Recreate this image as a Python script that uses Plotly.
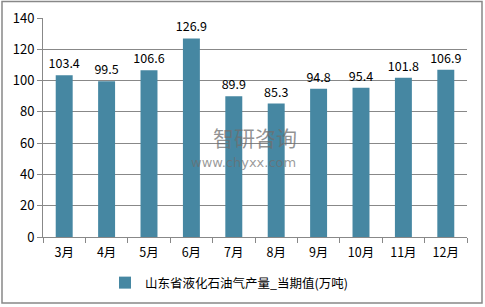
import plotly.graph_objects as go

months = ["3月", "4月", "5月", "6月", "7月", "8月", "9月", "10月", "11月", "12月"]
values = [103.4, 99.5, 106.6, 126.9, 89.9, 85.3, 94.8, 95.4, 101.8, 106.9]
series_name = "山东省液化石油气产量_当期值(万吨)"
y_ticks = [0, 20, 40, 60, 80, 100, 120, 140]

W, H = 485, 307
ml, mr, mt, mb = 43, 18, 18, 70

pw = W - ml - mr
ph = H - mt - mb
def px(x): return (x - ml) / pw
def py(y): return (H - mb - y) / ph

fig = go.Figure()
fig.add_trace(go.Bar(
    x=months, y=values, name=series_name,
    marker=dict(color="#4687a2", line=dict(width=0)),
    text=[f"{v:.1f}" for v in values], textposition="outside",
    constraintext="none",
    textfont=dict(family="Noto Sans CJK SC", size=12.5, color="#000000"),
    cliponaxis=False,
))

font = "Noto Sans CJK SC"
fig.update_layout(
    width=W, height=H,
    margin=dict(l=ml, r=mr, t=mt, b=mb, autoexpand=False),
    paper_bgcolor="white", plot_bgcolor="white",
    bargap=0.6,
    showlegend=True,
    legend=dict(orientation="h", x=px(105), xanchor="left", y=py(268), yanchor="top",
                font=dict(family=font, size=12.5, color="#000"),
                bgcolor="rgba(0,0,0,0)"),
    font=dict(family=font, size=12, color="#000"),
    xaxis=dict(showline=True, linecolor="#888", linewidth=1, automargin=False,
               ticks="outside", ticklen=5, tickcolor="#888", tickson="boundaries",
               ticklabelstandoff=4,
               tickfont=dict(family=font, size=12.5), showgrid=False),
    yaxis=dict(range=[0, 140], tickvals=y_ticks, showline=True, linecolor="#888",
               linewidth=1, ticks="outside", ticklen=5, tickcolor="#888", automargin=False,
               showgrid=True, gridcolor="#888", gridwidth=1,
               tickfont=dict(family=font, size=13), zeroline=False),
)

# outer border
fig.add_shape(type="rect", xref="paper", yref="paper",
              x0=px(2), x1=px(482), y0=py(303), y1=py(1.5),
              line=dict(color="#888", width=1.5), fillcolor="rgba(0,0,0,0)")

# watermark
fig.add_annotation(xref="paper", yref="paper", x=px(255), y=py(137), text="智研咨询",
                   showarrow=False, font=dict(family=font, size=21, color="rgba(110,110,110,0.75)"))
fig.add_annotation(xref="paper", yref="paper", x=px(243), y=py(172), text="www.chyxx.com",
                   showarrow=False, font=dict(family="DejaVu Sans", size=13, color="rgba(110,110,110,0.7)"))

fig.write_html("out.html")
